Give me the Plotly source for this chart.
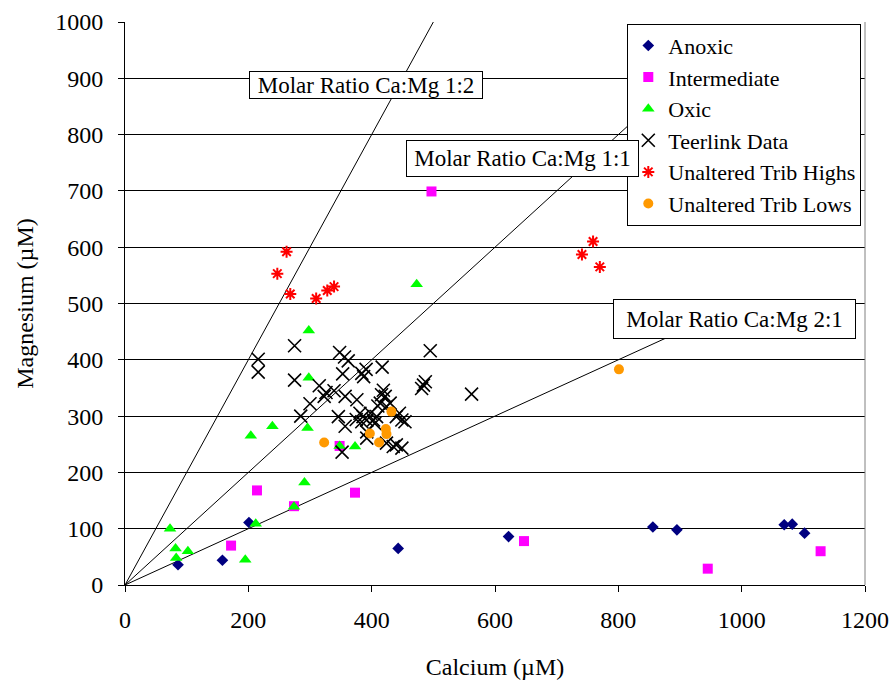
import plotly.graph_objects as go

# ---------------- data ----------------
anoxic_ca = [86, 158, 201, 443, 622, 856, 895, 1069, 1082, 1102]
anoxic_mg = [36, 44, 111, 65, 86, 103, 98, 107, 108, 92]

inter_ca = [172, 214, 274, 348, 373, 497, 647, 945, 1128]
inter_mg = [70, 168, 140, 247, 164, 699, 78, 29, 60]

oxic_ca = [73, 82, 83, 102, 195, 212, 204, 239, 274, 291, 296, 298, 298, 348, 373, 473]
oxic_mg = [100, 65, 48, 60, 45, 109, 265, 282, 139, 182, 279, 368, 452, 247, 246, 534]

teer_ca = [216, 216, 275, 275, 285, 300, 315, 323, 326, 339, 348, 356, 362, 353, 346, 357,
           352, 357, 376, 375, 384, 387, 391, 417, 495, 381, 386, 392, 384, 392, 392, 403,
           405, 408, 414, 419, 416, 422, 424, 430, 440, 449, 454, 445, 424, 435, 440, 449,
           484, 481, 487, 562, 410, 398]
teer_mg = [401, 378, 425, 364, 300, 322, 354, 335, 342, 345, 413, 405, 398, 375, 299, 282,
           236, 335, 329, 294, 376, 370, 383, 387, 416, 305, 299, 293, 290, 272, 261, 293,
           287, 299, 323, 346, 338, 335, 317, 323, 299, 293, 290, 305, 252, 246, 249, 243,
           355, 349, 361, 339, 318, 305]

high_ca = [247, 262, 268, 310, 328, 339, 741, 759, 770]
high_mg = [553, 592, 517, 509, 523, 530, 587, 610, 565]

low_ca = [323, 397, 412, 423, 424, 432, 801]
low_mg = [253, 269, 253, 277, 268, 308, 383]

ratio_labels = ["Molar Ratio Ca:Mg 1:2", "Molar Ratio Ca:Mg 1:1", "Molar Ratio Ca:Mg 2:1"]
ratio_mg_per_ca = [2.0, 1.0, 0.5]
ratio_line_end_ca = [500, 840, 960]
ratio_label_ca = [391, 644, 989]
ratio_label_mg = [888, 758, 472]
ratio_box_w = [232, 231, 241]
ratio_box_h = [26, 35, 38]

x_ticks = [0, 200, 400, 600, 800, 1000, 1200]
y_ticks = [0, 100, 200, 300, 400, 500, 600, 700, 800, 900, 1000]

FONT = "Liberation Serif, Times New Roman, Times, serif"

fig = go.Figure()

# ratio reference lines
for slope, xe in zip(ratio_mg_per_ca, ratio_line_end_ca):
    fig.add_trace(go.Scatter(x=[0, xe], y=[0, xe * slope], mode="lines",
                             line=dict(color="black", width=1),
                             showlegend=False, hoverinfo="skip"))

fig.add_trace(go.Scatter(x=anoxic_ca, y=anoxic_mg, mode="markers", name="Anoxic",
                         marker=dict(symbol="diamond", size=9, color="#000080")))
fig.add_trace(go.Scatter(x=inter_ca, y=inter_mg, mode="markers", name="Intermediate",
                         marker=dict(symbol="square", size=10, color="#FF00FF")))
fig.add_trace(go.Scatter(x=oxic_ca, y=oxic_mg, mode="markers", name="Oxic",
                         marker=dict(symbol="triangle-up", size=11, color="#00FF00")))
fig.add_trace(go.Scatter(x=teer_ca, y=teer_mg, mode="markers", name="Teerlink Data",
                         marker=dict(symbol="x-thin-open", size=13, color="black",
                                     line=dict(width=1.6, color="black"))))
fig.add_trace(go.Scatter(x=high_ca, y=high_mg, mode="markers", name="Unaltered Trib Highs",
                         marker=dict(symbol="asterisk-open", size=10, color="#FF0000",
                                     line=dict(width=2, color="#FF0000"))))
fig.add_trace(go.Scatter(x=low_ca, y=low_mg, mode="markers", name="Unaltered Trib Lows",
                         marker=dict(symbol="circle", size=10, color="#FF9900")))

for txt, xc, yc, w, h in zip(ratio_labels, ratio_label_ca, ratio_label_mg, ratio_box_w, ratio_box_h):
    fig.add_annotation(x=xc, y=yc, xref="x", yref="y", text=txt, showarrow=False,
                       font=dict(family=FONT, size=23, color="black"),
                       bgcolor="white", bordercolor="black", borderwidth=1, borderpad=0,
                       width=w, height=h)

# grey right border of plot area
fig.add_shape(type="line", xref="paper", yref="paper", x0=1, x1=1, y0=0, y1=1,
              line=dict(color="#808080", width=1))

fig.update_layout(
    width=891, height=686,
    margin=dict(l=125, r=26, t=22, b=101, autoexpand=False),
    paper_bgcolor="white", plot_bgcolor="white",
    font=dict(family=FONT, size=23, color="black"),
    legend=dict(x=0.995, y=0.997, xanchor="right", yanchor="top",
                bgcolor="white", bordercolor="black", borderwidth=1,
                font=dict(family=FONT, size=22), tracegroupgap=0),
    xaxis=dict(range=[0, 1200], tickvals=x_ticks, showgrid=False, zeroline=False,
               showline=True, linecolor="black", linewidth=1, automargin=False,
               ticks="outside", ticklen=6, tickcolor="black",
               tickfont=dict(family=FONT, size=24), ticklabelstandoff=7,
               title=dict(text="Calcium (µM)", font=dict(family=FONT, size=24), standoff=26)),
    yaxis=dict(range=[0, 1000], tickvals=y_ticks, showgrid=True, gridcolor="black", gridwidth=1,
               zeroline=False, showline=True, linecolor="black", linewidth=1, automargin=False,
               ticks="outside", ticklen=6, tickcolor="black",
               tickfont=dict(family=FONT, size=24), ticklabelstandoff=10,
               title=dict(text="Magnesium (µM)", font=dict(family=FONT, size=24), standoff=14)),
)

fig.write_html("out.html")
